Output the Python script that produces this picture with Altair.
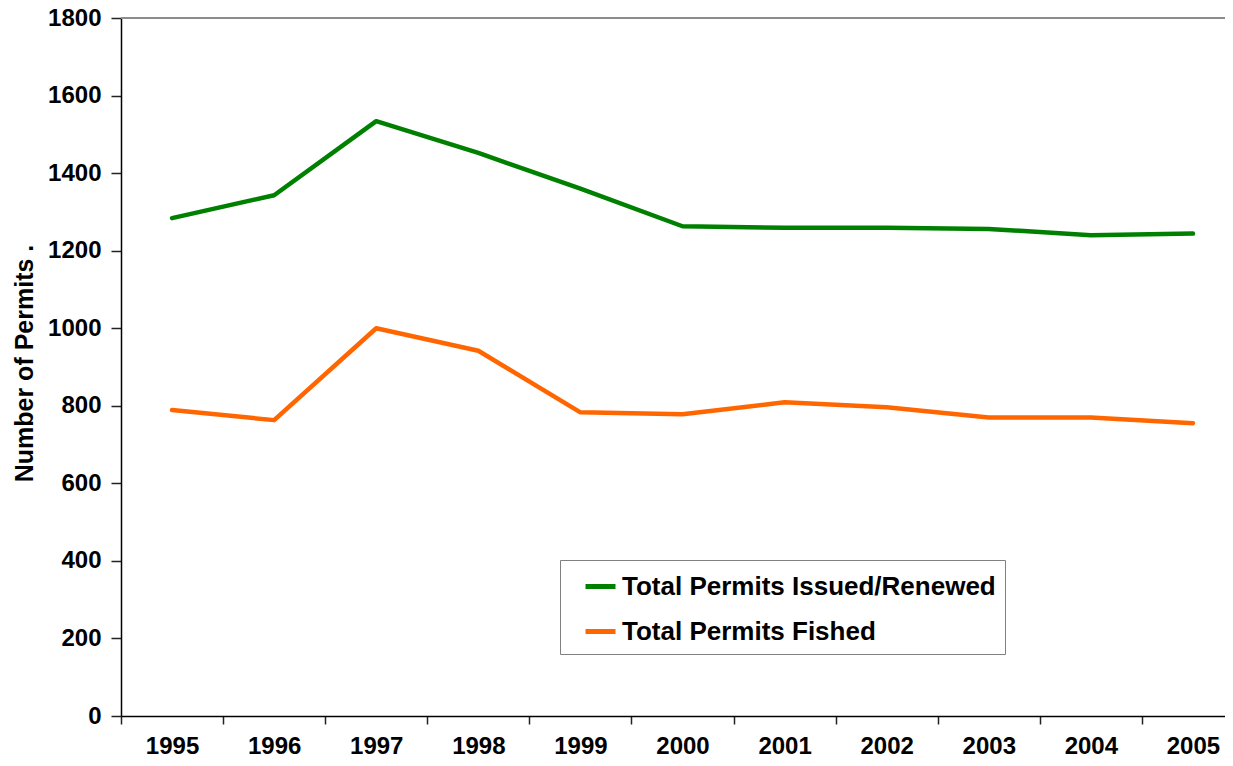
import altair as alt
import pandas as pd

# ---- data ----
years = [1995, 1996, 1997, 1998, 1999, 2000, 2001, 2002, 2003, 2004, 2005]
issued = [1284, 1343, 1534, 1452, 1360, 1263, 1259, 1259, 1256, 1240, 1244]
fished = [789, 763, 1000, 942, 783, 778, 809, 796, 770, 770, 755]
series_names = ["Total Permits Issued/Renewed", "Total Permits Fished"]
series_colors = ["#008000", "#FF6600"]
y_ticks = [0, 200, 400, 600, 800, 1000, 1200, 1400, 1600, 1800]

rows = []
for name, vals in zip(series_names, [issued, fished]):
    for yr, v in zip(years, vals):
        rows.append({"year": str(yr), "series": name, "value": v})
df = pd.DataFrame(rows)

# the page is 1233 px wide with an 8 px margin on each side: keep the SVG <= 1217 px
PLOT_W = 1104
X_RANGE = 1123   # the reference's plot area continues past the right edge of the picture
PLOT_H = 698
FONT = "Liberation Sans"

x_enc = alt.X(
    "year:O",
    sort=[str(y) for y in years],
    scale=alt.Scale(type="band", paddingInner=0, paddingOuter=0, range=[0, X_RANGE]),
    bandPosition=0.5,
    axis=alt.Axis(
        title=None,
        tickBand="extent",
        labelAngle=0,
        tickSize=8,
        tickWidth=1.5,
        tickColor="#222222",
        domainColor="black",
        domainWidth=1.5,
        labelPadding=29,
        labelBaseline="alphabetic",
        labelFontSize=24,
        labelFontWeight="bold",
        labelColor="black",
        labelFont=FONT,
    ),
)

y_scale = alt.Scale(domain=[0, 1800], nice=False)
y_axis = alt.Axis(
    values=y_ticks,
    format="d",
    grid=False,
    title="Number of Permits .",
    titleFont=FONT,
    titleFontSize=25,
    titleFontWeight="bold",
    titleColor="black",
    titleX=-89,
    titleY=345,
    titleBaseline="alphabetic",
    titleAngle=270,
    tickSize=10,
    tickWidth=1.5,
    tickColor="#222222",
    domainColor="black",
    domainWidth=1.5,
    labelPadding=10,
    labelFontSize=24,
    labelFontWeight="bold",
    labelColor="black",
    labelFont=FONT,
)

lines = alt.Chart(df).mark_line(strokeWidth=4.5, strokeCap="round", strokeJoin="round").encode(
    x=x_enc,
    y=alt.Y("value:Q", scale=y_scale, axis=y_axis),
    color=alt.Color(
        "series:N",
        scale=alt.Scale(domain=series_names, range=series_colors),
        sort=series_names,
        legend=alt.Legend(
            title=None,
            orient="none",
            legendX=439,
            legendY=542,
            direction="vertical",
            fillColor="white",
            strokeColor="#808080",
            padding=9,
            symbolType="stroke",
            symbolSize=900,
            symbolStrokeWidth=5,
            symbolOffset=14,
            labelOffset=4,
            labelFontSize=26,
            labelFontWeight="bold",
            labelColor="black",
            labelFont=FONT,
            labelLimit=0,
            rowPadding=14,
        ),
    ),
)

border = alt.Chart(pd.DataFrame({"value": [1800]})).mark_rule(color="#8c8c8c", strokeWidth=2).encode(
    y=alt.Y("value:Q", scale=y_scale, axis=y_axis),
    x=alt.value(0),
    x2=alt.value(PLOT_W),
)

chart = (
    alt.layer(lines, border)
    .properties(
        width=PLOT_W,
        height=PLOT_H,
        autosize=alt.AutoSizeParams(type="none"),
        padding={"left": 113, "top": 10, "right": 0, "bottom": 42},
    )
    .configure_view(stroke=None)
    .configure(font=FONT)
)

chart.save("out.html", embed_options={"renderer": "svg", "actions": False})
